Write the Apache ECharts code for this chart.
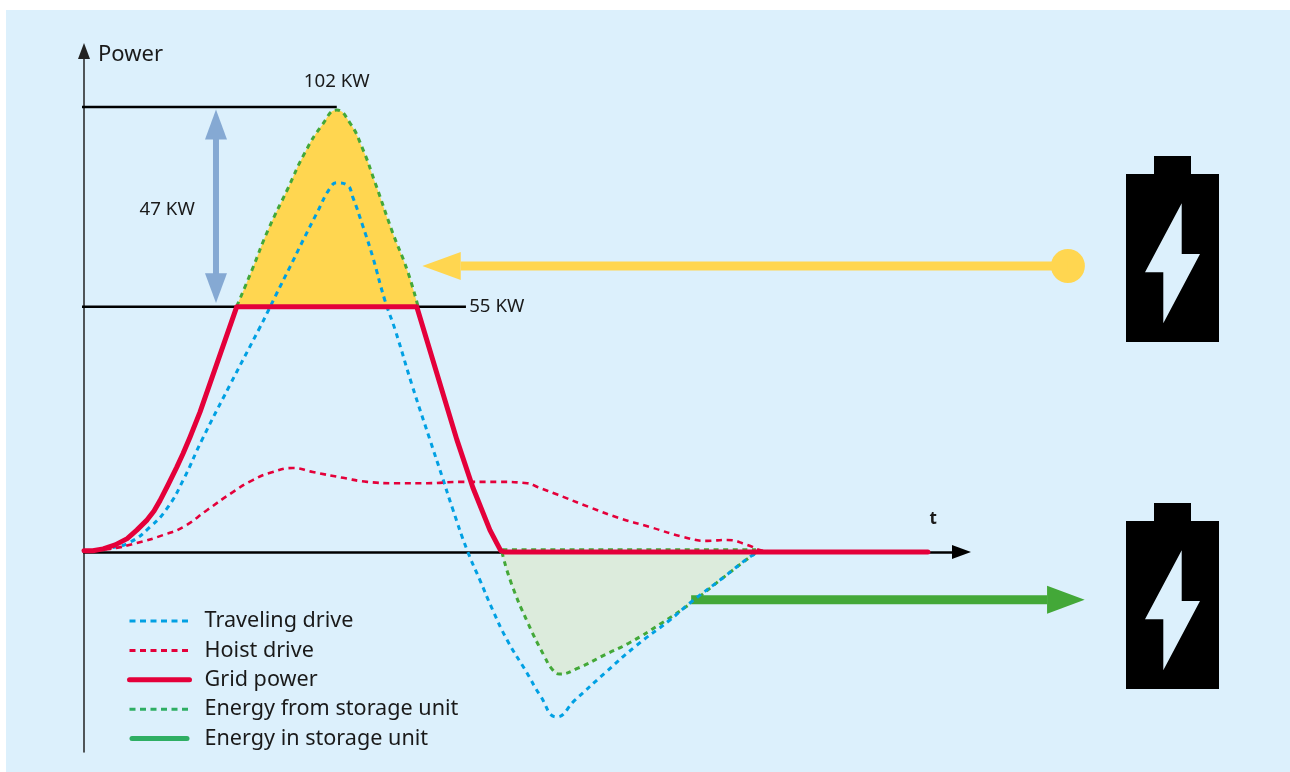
<!DOCTYPE html>
<html>
<head>
<meta charset="utf-8">
<title>Power</title>
<style>
  html, body { margin: 0; background: #fff; }
  #chart { width: 1290px; height: 772px; }
</style>
<script src="https://cdn.jsdelivr.net/npm/echarts@6/dist/echarts.min.js"></script>
</head>
<body>
<div id="chart"></div>
<script>
// all values as [t, power]
const travelingDrive = [[0,0.2],[3.25,0.9],[5.75,2.2],[8.25,5.6],[10.4,9.8],[12.4,16.1],[14.75,25.1],[18.25,37.4],[22,50.3],[22.9,53.5],[24.1,57.9],[25.75,63.8],[27.4,69.8],[29.1,75.8],[30.75,81.4],[31.6,82.6],[32.9,82.1],[33.6,79.4],[34.9,72.7],[36.1,66.0],[37.6,56.4],[38.9,49.7],[41,37.4],[43.25,25.1],[44.75,17.0],[46.1,9.6],[47.9,0.4],[49.5,-6.3],[51.1,-13.0],[52.9,-19.7],[55.4,-27.1],[57,-32.0],[59.1,-36.9],[61.4,-33.1],[65.1,-27.1],[69,-21.0],[73.25,-15.2],[75.75,-11.4],[80,-5.6],[83.4,-0.9],[84.5,0]];
const hoistDrive = [[0,0.2],[3.25,0.7],[6.6,2.0],[9.9,3.8],[12.4,5.6],[15.4,9.4],[18.6,13.4],[21.1,16.1],[23.6,17.9],[26.1,18.8],[28.6,17.9],[32.4,16.6],[35.4,15.7],[39.1,15.4],[42.9,15.4],[47,15.7],[51.6,15.7],[55.4,15.4],[56.75,14.5],[59.25,12.8],[63.1,10.1],[66.9,7.6],[70.75,5.6],[74.9,3.4],[77.9,2.5],[80.4,2.7],[82.9,1.6],[84.6,0.4],[85.5,0.2]];
const gridPower = [[0,0.27],[1.1,0.3],[2.4,0.7],[3.9,1.6],[5.4,3.0],[6.6,4.9],[7.9,7.2],[8.75,9.2],[9.5,11.5],[10.5,15],[11.6,19],[12.4,22.1],[13.25,25.7],[14.5,31.3],[19.1,54.9],[41.6,54.9],[46.6,25.2],[48.6,14.5],[50.75,4.9],[51.6,2.0],[52.1,0.3],[52.6,0],[105.5,0]];
const storagePeak = [[19.1,55],[21,63.1],[23,72.0],[25.4,81.0],[27.6,89.3],[29.75,95.5],[31.6,98.9],[33.25,96.0],[34.75,90.6],[36.4,82.6],[38.6,71.4],[40.4,63.1],[41.75,55]];
const storageDip = [[52.25,0],[53.4,-6.9],[55.5,-15.9],[57.6,-23.5],[58.6,-26.4],[59.4,-27.3],[61.75,-26.0],[65.1,-23.0],[68.1,-20.4],[72.4,-15.7],[75.9,-11.4],[80,-5.6],[83.4,-0.9],[84.1,0]];
const storageDipTop = [[52.3,0.5],[84,0.5]];
const level102 = [[-0.25,99.55],[31.6,99.55]];
const level55 = [[-0.25,54.9],[47.75,54.9]];
const dischargeDot = [[123,64]];

// straight shafts as [fromT, fromP, toT, toP]
const chargeShaft = [[75.9,-10.7,120.4,-10.7]];
const dischargeShaft = [[123,64,47.1,64]];
const spanShaft = [[16.5,93,16.5,62]];

// arrow heads as [tipT, tipP, baseT, baseP]
const dischargeHead = [[42.3,64,47.1,64]];
const chargeHead = [[125.1,-10.7,120.4,-10.7]];
const spanHeads = [[16.5,99,16.5,92.3],[16.5,55.7,16.5,62.4]];

const labelTexts = ["102 KW", "47 KW", "55 KW"];
const labelPoints = [[31.6,105.3],[10.4,76.7],[51.6,54.8]];
const legendNames = ["Traveling drive", "Hoist drive", "Grid power", "Energy from storage unit", "Energy in storage unit"];

const BG = "#dcf0fc";
const BLUE = "#00a0e3";
const RED = "#e4003a";
const GREEN = "#43a838";
const YELLOW = "#ffd650";
const SPAN = "#85a9d3";
const INK = "#1a1a1a";
const FONT = '"Noto Sans", sans-serif';

function dashed(name, data, color, extra) {
  return Object.assign({
    name, type: "line", data, smooth: 0.5, symbol: "none", clip: false, silent: true,
    lineStyle: { color, width: 3, type: [5, 4.6] },
  }, extra);
}

function solid(name, data, color, width) {
  return {
    name, type: "line", data, symbol: "none", clip: false, silent: true,
    lineStyle: { color, width, cap: "butt" },
  };
}

function shaft(name, rows, color, width) {
  return {
    name, type: "custom", data: rows, silent: true, z: 3,
    encode: { x: 0, y: 1 },
    renderItem: (params, api) => {
      const a = api.coord([api.value(0), api.value(1)]);
      const b = api.coord([api.value(2), api.value(3)]);
      return {
        type: "line",
        shape: { x1: a[0], y1: a[1], x2: b[0], y2: b[1] },
        style: { stroke: color, lineWidth: width },
      };
    },
  };
}

function arrowHeads(name, rows, color, halfWidth) {
  return {
    name, type: "custom", data: rows, silent: true, z: 3,
    encode: { x: 0, y: 1 },
    renderItem: (params, api) => {
      const tip = api.coord([api.value(0), api.value(1)]);
      const base = api.coord([api.value(2), api.value(3)]);
      const len = Math.hypot(tip[0] - base[0], tip[1] - base[1]);
      const nx = (-(tip[1] - base[1]) / len) * halfWidth;
      const ny = ((tip[0] - base[0]) / len) * halfWidth;
      return {
        type: "polygon",
        shape: { points: [tip, [base[0] + nx, base[1] + ny], [base[0] - nx, base[1] - ny]] },
        style: { fill: color },
      };
    },
  };
}

function battery(top) {
  return {
    type: "group", x: 1126, y: top, silent: true,
    children: [
      { type: "rect", shape: { x: 28, y: 0, width: 37, height: 20 }, style: { fill: "#000" } },
      { type: "rect", shape: { x: 0, y: 18, width: 93, height: 168 }, style: { fill: "#000" } },
      {
        type: "polygon",
        shape: { points: [[55.7, 47.3], [19, 116.3], [37.3, 116.3], [37.3, 167.3], [74, 98], [55.7, 98]] },
        style: { fill: BG },
      },
    ],
  };
}

const chart = echarts.init(document.getElementById("chart"), null, { renderer: "canvas" });

chart.setOption({
  animation: false,
  backgroundColor: "#fff",
  tooltip: { show: false },
  graphic: [
    { type: "rect", z: -10, silent: true, shape: { x: 6, y: 10, width: 1284, height: 762 }, style: { fill: BG } },
    battery(156),
    battery(503),
  ],
  grid: { left: 84, right: 328.5, top: 51, bottom: 20 },
  legend: {
    orient: "vertical",
    left: 127,
    top: 610,
    padding: 0,
    itemWidth: 60,
    itemHeight: 14,
    itemGap: 7.4,
    selectedMode: false,
    itemStyle: { opacity: 0 },
    textStyle: { fontFamily: FONT, fontSize: 21.6, color: INK, padding: [0, 0, 0, 10] },
    data: [
      { name: legendNames[0], lineStyle: { width: 3, type: [6, 4.5] } },
      { name: legendNames[1], lineStyle: { width: 3, type: [6, 4.5] } },
      { name: legendNames[2], lineStyle: { cap: "round", width: 5 } },
      { name: legendNames[3], lineStyle: { color: "#2eae63", width: 3, type: [6, 4.5] } },
      {
        name: legendNames[4],
        icon: "path://M2.5 0H57.5A2.5 2.5 0 0 1 57.5 5H2.5A2.5 2.5 0 0 1 2.5 0Z",
        itemStyle: { color: "#2eae63", opacity: 1 },
      },
    ],
  },
  xAxis: {
    type: "value",
    min: 0,
    max: 109.7,
    name: "t",
    nameLocation: "end",
    nameGap: -32,
    nameTextStyle: { fontFamily: FONT, fontSize: 17, fontWeight: "bold", color: INK, verticalAlign: "bottom", padding: [0, 0, 24, 0] },
    axisLine: { onZero: true, lineStyle: { color: "#000", width: 2.5 }, symbol: ["none", "triangle"], symbolSize: [14, 19] },
    axisTick: { show: false },
    axisLabel: { show: false },
    splitLine: { show: false },
  },
  yAxis: {
    type: "value",
    min: -44.74,
    max: 112.1,
    name: "Power",
    nameLocation: "end",
    nameGap: -15,
    nameTextStyle: { fontFamily: FONT, fontSize: 22, color: INK, align: "left", padding: [0, 0, 0, 14] },
    axisLine: { onZero: false, lineStyle: { color: "#222", width: 1.5 }, symbol: ["none", "triangle"], symbolSize: [12, 16] },
    axisTick: { show: false },
    axisLabel: { show: false },
    splitLine: { show: false },
  },
  series: [
    solid("102 KW level", level102, "#000", 2.5),
    solid("55 KW level", level55, "#000", 2.5),
    dashed(legendNames[3], storagePeak, GREEN, {
      areaStyle: { color: YELLOW, opacity: 1, origin: 55 },
    }),
    dashed(legendNames[3], storageDip, GREEN, {
      areaStyle: { color: "#dcebdc", opacity: 1, origin: 0 },
    }),
    dashed(legendNames[0], travelingDrive, BLUE),
    dashed(legendNames[1], hoistDrive, RED, { lineStyle: { color: RED, width: 2.6, type: [6, 4.7] } }),
    dashed(legendNames[3], storageDipTop, GREEN, { smooth: false }),
    {
      name: legendNames[2], type: "line", data: gridPower, symbol: "none", clip: false, silent: true,
      lineStyle: { color: RED, width: 5, cap: "round", join: "round" }, z: 4,
    },
    shaft("Discharge", dischargeShaft, YELLOW, 9),
    {
      name: "Discharge source", type: "scatter", data: dischargeDot, symbol: "circle", symbolSize: 34,
      clip: false, silent: true, itemStyle: { color: YELLOW, opacity: 1 },
    },
    arrowHeads("Discharge head", dischargeHead, YELLOW, 14),
    shaft(legendNames[4], chargeShaft, GREEN, 9),
    arrowHeads("Charge head", chargeHead, GREEN, 14),
    shaft("Span", spanShaft, SPAN, 6),
    arrowHeads("Span heads", spanHeads, SPAN, 11),
    {
      name: "Labels", type: "custom", data: labelPoints, silent: true, z: 5,
      encode: { x: 0, y: 1 },
      renderItem: (params, api) => {
        const p = api.coord([api.value(0), api.value(1)]);
        return {
          type: "text",
          x: p[0],
          y: p[1],
          style: {
            text: labelTexts[params.dataIndex],
            fill: INK,
            font: '18.7px "Noto Sans", sans-serif',
            textAlign: "center",
            textVerticalAlign: "middle",
          },
        };
      },
    },
  ],
});
</script>
</body>
</html>
